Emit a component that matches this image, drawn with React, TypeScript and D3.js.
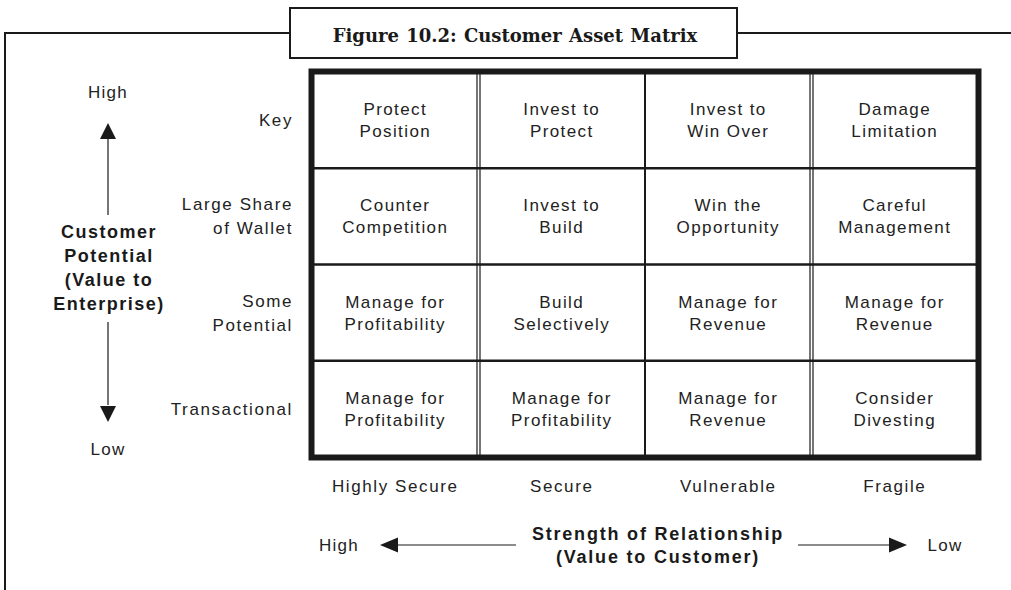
import React, { useRef, useEffect } from "react";
import * as d3 from "d3";

// Customer asset matrix: rows = customer potential, columns = strength of relationship
const rowLabels = [["Key"], ["Large Share", "of Wallet"], ["Some", "Potential"], ["Transactional"]];
const colLabels = ["Highly Secure", "Secure", "Vulnerable", "Fragile"];
const cellText = [
  [["Protect", "Position"], ["Invest to", "Protect"], ["Invest to", "Win Over"], ["Damage", "Limitation"]],
  [["Counter", "Competition"], ["Invest to", "Build"], ["Win the", "Opportunity"], ["Careful", "Management"]],
  [["Manage for", "Profitability"], ["Build", "Selectively"], ["Manage for", "Revenue"], ["Manage for", "Revenue"]],
  [["Manage for", "Profitability"], ["Manage for", "Profitability"], ["Manage for", "Revenue"], ["Consider", "Divesting"]],
];
// divider after column i: true = double rule
const doubleDivider = [true, false, true];
const yAxisTitle = ["Customer", "Potential", "(Value to", "Enterprise)"];
const xAxisTitle = ["Strength of Relationship", "(Value to Customer)"];
const title = "Figure 10.2: Customer Asset Matrix";

const W = 1011;
const H = 590;
const SANS = "Liberation Sans, Arial, sans-serif";

const CustomerAssetMatrix = () => {
  const svgRef = useRef<SVGSVGElement>(null);

  useEffect(() => {
    const svg = d3.select(svgRef.current);
    svg.selectAll("*").remove();

    const grid = { left: 312, right: 978, top: 72, bottom: 457 };
    const x = d3.scaleBand().domain(colLabels).range([grid.left, grid.right]);
    const y = d3.scaleBand().domain(rowLabels.map((d) => d.join(" "))).range([grid.top, grid.bottom]);
    const ink = "#1a1a1a";
    const textInk = "#222";

    // outer frame with title tab
    svg.append("path")
      .attr("d", "M5,590 V33 H290 M737,33 H1011")
      .attr("fill", "none").attr("stroke", ink).attr("stroke-width", 2);
    svg.append("rect")
      .attr("x", 290).attr("y", 8).attr("width", 447).attr("height", 50)
      .attr("fill", "#fff").attr("stroke", ink).attr("stroke-width", 2);
    svg.append("text")
      .attr("x", 515).attr("y", 42)
      .attr("text-anchor", "middle")
      .attr("font-family", "DejaVu Serif, serif")
      .attr("font-weight", "bold")
      .attr("font-size", 18)
      .attr("word-spacing", 1)
      .attr("fill", ink)
      .text(title);

    const g = svg.append("g");

    // row dividers
    rowLabels.slice(1).forEach((r) => {
      const yy = y(r.join(" "))!;
      g.append("line")
        .attr("x1", grid.left).attr("x2", grid.right)
        .attr("y1", yy).attr("y2", yy)
        .attr("stroke", ink).attr("stroke-width", 2.5);
    });

    // column dividers
    colLabels.slice(1).forEach((c, i) => {
      const xx = x(c)!;
      const offsets = doubleDivider[i] ? [-1.5, 1.5] : [0];
      offsets.forEach((o) => {
        g.append("line")
          .attr("x1", xx + o).attr("x2", xx + o)
          .attr("y1", grid.top).attr("y2", grid.bottom)
          .attr("stroke", ink).attr("stroke-width", doubleDivider[i] ? 1.2 : 2);
      });
    });

    // thick outer border
    g.append("rect")
      .attr("x", grid.left - 0.5).attr("y", grid.top - 0.5)
      .attr("width", grid.right - grid.left + 1).attr("height", grid.bottom - grid.top + 1)
      .attr("fill", "none").attr("stroke", ink).attr("stroke-width", 6);

    const sansText = (sel: any, size = 17, ls = 1.4) =>
      sel.append("text")
        .attr("font-family", SANS)
        .attr("font-size", size)
        .attr("letter-spacing", ls)
        .attr("fill", textInk);

    // cell texts
    cellText.forEach((row, ri) => {
      row.forEach((lines, ci) => {
        const cx = x(colLabels[ci])! + x.bandwidth() / 2;
        const cy = y(rowLabels[ri].join(" "))! + y.bandwidth() / 2;
        const t = sansText(g).attr("text-anchor", "middle");
        lines.forEach((l, li) => {
          t.append("tspan")
            .attr("x", cx)
            .attr("y", cy + (li - (lines.length - 1) / 2) * 22 + 6)
            .text(l);
        });
      });
    });

    // row labels
    rowLabels.forEach((lines) => {
      const cy = y(lines.join(" "))! + y.bandwidth() / 2;
      const t = sansText(g, 17, 1.6).attr("text-anchor", "end");
      lines.forEach((l, li) => {
        t.append("tspan")
          .attr("x", 293)
          .attr("y", cy + (li - (lines.length - 1) / 2) * 24 + 6)
          .text(l);
      });
    });

    // column labels
    colLabels.forEach((c) => {
      sansText(g, 17, 1.6)
        .attr("x", x(c)! + x.bandwidth() / 2)
        .attr("y", 492)
        .attr("text-anchor", "middle")
        .text(c);
    });

    // vertical axis: High ▲ ... title ... ▼ Low
    const ax = 108;
    const label = (tx: number, ty: number, s: string) =>
      sansText(g, 17, 1.2).attr("x", tx).attr("y", ty).attr("text-anchor", "middle").text(s);
    label(ax, 98, "High");
    label(ax, 455, "Low");
    g.append("line").attr("x1", ax).attr("x2", ax).attr("y1", 135).attr("y2", 215)
      .attr("stroke", ink).attr("stroke-width", 1.2);
    g.append("path").attr("d", `M${ax},123 L${ax - 8},139 L${ax + 8},139 Z`).attr("fill", ink);
    g.append("line").attr("x1", ax).attr("x2", ax).attr("y1", 322).attr("y2", 405)
      .attr("stroke", ink).attr("stroke-width", 1.2);
    g.append("path").attr("d", `M${ax},422 L${ax - 8},406 L${ax + 8},406 Z`).attr("fill", ink);

    const yt = g.append("text")
      .attr("text-anchor", "middle")
      .attr("font-family", SANS)
      .attr("font-weight", "bold")
      .attr("font-size", 18)
      .attr("letter-spacing", 1.5)
      .attr("fill", ink);
    yAxisTitle.forEach((l, i) => {
      yt.append("tspan").attr("x", ax + 1).attr("y", 238 + i * 24).text(l);
    });

    // horizontal axis: High ◄ ... title ... ► Low
    const ay = 545;
    label(339, ay + 6, "High");
    label(945, ay + 6, "Low");
    g.append("line").attr("x1", 395).attr("x2", 516).attr("y1", ay).attr("y2", ay)
      .attr("stroke", ink).attr("stroke-width", 1.2);
    g.append("path").attr("d", `M380,${ay} L398,${ay - 7.5} L398,${ay + 7.5} Z`).attr("fill", ink);
    g.append("line").attr("x1", 798).attr("x2", 892).attr("y1", ay).attr("y2", ay)
      .attr("stroke", ink).attr("stroke-width", 1.2);
    g.append("path").attr("d", `M907,${ay} L889,${ay - 7.5} L889,${ay + 7.5} Z`).attr("fill", ink);

    const xt = g.append("text")
      .attr("text-anchor", "middle")
      .attr("font-family", SANS)
      .attr("font-weight", "bold")
      .attr("font-size", 18)
      .attr("letter-spacing", 1.8)
      .attr("fill", ink);
    xAxisTitle.forEach((l, i) => {
      xt.append("tspan").attr("x", 658).attr("y", 540 + i * 23).text(l);
    });
  }, []);

  return (
    <svg
      ref={svgRef}
      width={W}
      height={H}
      style={{ position: "absolute", left: 0, top: 0, background: "#fff" }}
    />
  );
};

export default function App() {
  return <CustomerAssetMatrix />;
}
